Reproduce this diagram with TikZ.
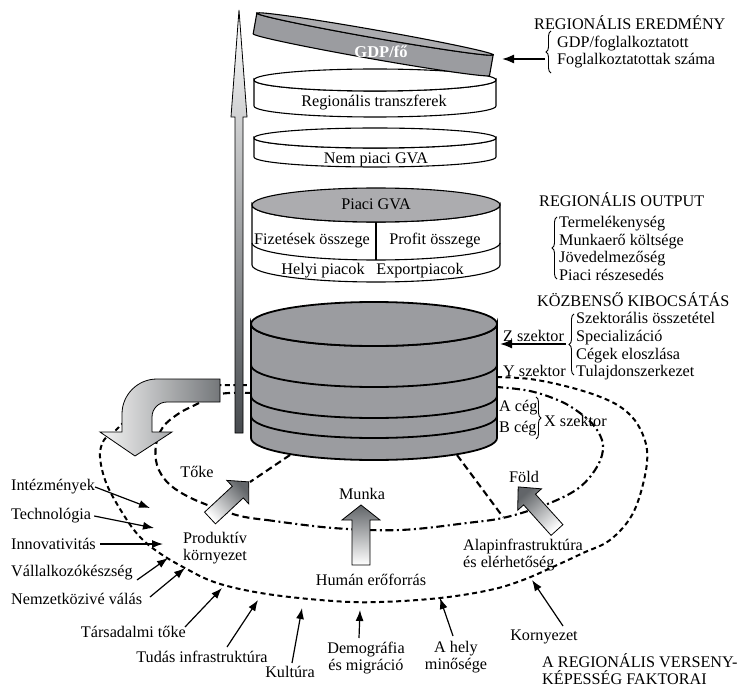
\documentclass[tikz,border=0pt]{standalone}
\usepackage{fontspec}
\setmainfont{Liberation Serif}
\usetikzlibrary{arrows.meta,decorations.pathreplacing,calc}
\definecolor{cylgray}{RGB}{155,156,160}
\definecolor{topgray}{RGB}{172,172,175}
\definecolor{darkarrow}{RGB}{70,74,78}
\newcommand\diskbody[6]{%
  \path[fill=#6,draw=black,line width=1.1pt] ({#1-#3},#2) -- ({#1-#3},{#2+#5}) arc[start angle=180,end angle=360,x radius=#3pt,y radius=#4pt] -- ({#1+#3},#2) arc[start angle=0,end angle=-180,x radius=#3pt,y radius=#4pt] -- cycle;}
\newcommand\disktop[5]{%
  \path[fill=#5,draw=black,line width=1.1pt] (#1,#2) ellipse[x radius=#3pt,y radius=#4pt];}
\newcommand\blockarrow[8]{%
  \begin{scope}[shift={(#1,#2)},rotate=#3]
  \path[draw=black,line width=0.8pt,top color=darkarrow!85,bottom color=white,shading angle=#8] (-#7,0) -- (-#7,{-(#4-#5)}) -- (-#6,{-(#4-#5)}) -- (0,-#4) -- (#6,{-(#4-#5)}) -- (#7,{-(#4-#5)}) -- (#7,0) -- cycle;
  \end{scope}}
\begin{document}
\begin{tikzpicture}[x=1pt,y=-1pt,
  txt/.style={inner sep=0pt,font=\fontsize{16.2}{17.7}\selectfont},
  lab/.style={line width=1.2pt,-{Latex[length=11pt,width=8pt]}},
  bigarr/.style={line width=1.6pt,-{Latex[length=12pt,width=9pt]}},
  brc/.style={decorate,decoration={brace,amplitude=5pt},line width=0.9pt},
  outerloop/.style={line width=2pt,dash pattern=on 5pt off 3.5pt},
  innerloop/.style={line width=2.1pt,dash pattern=on 7pt off 4pt},
  innerdot/.style={line width=2.1pt,dash pattern=on 8pt off 3.5pt on 2pt off 3.5pt},
  cone/.style={line width=2.1pt,dash pattern=on 7pt off 4pt}]
\useasboundingbox (0,0) rectangle (741,687);
\fill[white] (0,0) rectangle (741,687);

% ---------- dashed loops ----------
\draw[outerloop] plot[smooth,tension=0.6] coordinates {(497,377) (530,379) (565,386) (598,396) (622,408) (638,425) (647,450) (644,480) (632,515) (610,540) (583,553) (555,566) (523,580) (490,590) (440,598) (380,602) (333,601) (267,594) (217,583) (183,567) (158,552) (140,537) (125,517) (107,485) (100,457) (104,440) (115,431) (130,415) (142,398) (165,388) (200,385) (220,385) (252,385)};
\draw[innerloop] plot[smooth,tension=0.6] coordinates {(252,393) (220,394) (195,405) (178,414) (163,427) (156,445) (157,465) (167,482) (185,495) (210,506) (240,516) (267,520)};
\draw[innerdot] plot[smooth,tension=0.6] coordinates {(267,520) (333,528) (400,530) (467,523) (507,517) (550,503) (580,487) (598,465) (603,445) (595,427) (580,413) (560,401) (530,391) (497,387)};
\coordinate (coneL1) at (290,455); \coordinate (coneL2) at (250,482);
\coordinate (coneR1) at (457,455); \coordinate (coneR2) at (503,517);
\draw[cone] (coneL1) -- (coneL2);
\draw[cone] (coneR1) -- (coneR2);

% ---------- big cylinder ----------
\path[fill=cylgray,draw=black,line width=1.8pt] (251,324) -- (251,438) arc[start angle=180,end angle=360,x radius=123pt,y radius=22pt] -- (497,324) arc[start angle=0,end angle=-180,x radius=123pt,y radius=22pt] -- cycle;
\draw[line width=1.8pt] (251,365) arc[start angle=180,end angle=360,x radius=123pt,y radius=22pt];
\draw[line width=1.8pt] (251,396) arc[start angle=180,end angle=360,x radius=123pt,y radius=22pt];
\draw[line width=1.8pt] (251,416) arc[start angle=180,end angle=360,x radius=123pt,y radius=22pt];
\path[fill=cylgray,draw=black,line width=1.8pt] (374,324) ellipse[x radius=123pt,y radius=22pt];

% ---------- Piaci GVA disk ----------
\diskbody{376}{205}{124}{17}{60}{white}
\draw[line width=1.1pt] (252,243) arc[start angle=180,end angle=360,x radius=124pt,y radius=17pt];
\draw[line width=1.1pt] (376,222) -- (376,260);
\disktop{376}{205}{124}{17}{topgray}
\node[txt] (piaci) at (376,204) {Piaci GVA};
\node[txt] (fizet) at (312,241) {Fizetések összege};
\node[txt] (profit) at (435,241) {Profit összege};
\node[txt] (helyi) at (323,271) {Helyi piacok};
\node[txt] (export) at (420,271) {Exportpiacok};

% ---------- Nem piaci GVA ----------
\diskbody{375}{138}{121}{10}{19}{white}
\disktop{375}{138}{121}{10}{white}
\node[txt] (nempiaci) at (376,160) {Nem piaci GVA};

% ---------- Regionalis transzferek ----------
\diskbody{375}{80}{121}{11}{26}{white}
\disktop{375}{80}{121}{11}{white}
\node[txt] (transz) at (374,103) {Regionális transzferek};

% ---------- GDP disk (tilted) ----------
\begin{scope}[shift={(375,34)},rotate=-10]
  \path[fill=cylgray,draw=black,line width=1.1pt] (-120,0) -- (-120,21) arc[start angle=180,end angle=360,x radius=120pt,y radius=4pt] -- (120,0) arc[start angle=0,end angle=-180,x radius=120pt,y radius=4pt] -- cycle;
  \path[fill=topgray,draw=black,line width=1.1pt] (0,0) ellipse[x radius=120pt,y radius=4pt];
\end{scope}
\node[txt,text=white,font=\fontsize{16.5}{18}\selectfont\bfseries] (gdp) at (381,52) {GDP/fő};

% ---------- vertical arrow ----------
\path[draw=black,line width=0.8pt,top color=white,bottom color=darkarrow] (235,433) -- (235,117) -- (231,117) -- (239,10) -- (247,117) -- (243,117) -- (243,433) -- cycle;

% ---------- big curved arrow ----------
\path[draw=black,line width=0.8pt,left color=white!92!gray,right color=darkarrow!75] (220,379) -- (157,379) arc[start angle=90,end angle=180,radius=35pt] -- (122,432) -- (100,432) -- (135,456) -- (172,432) -- (152,432) -- (152,417) arc[start angle=180,end angle=90,radius=15pt] -- (220,402) -- cycle;

% ---------- block arrows ----------
\blockarrow{361}{565}{0}{60}{15}{19}{9}{0}
\blockarrow{210}{518}{-47}{53}{15}{16}{8}{-47}
\blockarrow{557}{530}{42}{58}{17}{16}{8}{42}

% ---------- right-side blocks ----------
\node[txt,anchor=west] (regeredm) at (534,23) {REGIONÁLIS EREDMÉNY};
\node[txt,anchor=west,align=left] (gdpf) at (557,52) {GDP/foglalkoztatott\\Foglalkoztatottak száma};
\draw[brc] (551,73) -- (551,31);
\coordinate (gdpstart) at (545,59); \coordinate (gdptip) at (502,59);
\draw[bigarr] (gdpstart) -- (gdptip);

\node[txt,anchor=west] (regout) at (539,200) {REGIONÁLIS OUTPUT};
\node[txt,anchor=west,align=left] (outlist) at (559,248.5) {Termelékenység\\Munkaerő költsége\\Jövedelmezőség\\Piaci részesedés};
\draw[brc] (557,279) -- (557,217);

\node[txt,anchor=west] (kozb) at (537,300) {KÖZBENSŐ KIBOCSÁTÁS};
\node[txt,anchor=west,align=left] (kozlist) at (576,346.5) {Szektorális összetétel\\Specializáció\\Cégek eloszlása\\Tulajdonszerkezet};
\draw[brc] (574,375) -- (574,314);
\coordinate (zstart) at (566,344); \coordinate (ztip) at (500,344);
\draw[bigarr] (zstart) -- (ztip);
\node[txt,anchor=west] (zszek) at (503,336) {Z szektor};
\node[txt,anchor=west] (yszek) at (503,371) {Y szektor};
\node[txt,anchor=west] (aceg) at (499,408) {A cég};
\node[txt,anchor=west] (bceg) at (499,429) {B cég};
\draw[brc] (536,397) -- (536,439);
\node[txt,anchor=west] (xszek) at (544,421) {X szektor};

% ---------- inner labels ----------
\node[txt] (toke) at (197,472) {Tőke};
\node[txt] (munka) at (362,494) {Munka};
\node[txt] (fold) at (524,477) {Föld};
\node[txt,align=center] (prod) at (215,548) {Produktív\\környezet};
\node[txt] (human) at (371,580) {Humán erőforrás};
\node[txt,anchor=west,align=left] (alap) at (463,555) {Alapinfrastruktúra\\és elérhetőség};

% ---------- left labels ----------
\node[txt,anchor=west] (intez) at (11,487) {Intézmények};
\node[txt,anchor=west] (techn) at (11,516) {Technológia};
\node[txt,anchor=west] (innov) at (11,544) {Innovativitás};
\node[txt,anchor=west] (vall) at (11,573) {Vállalkozókészség};
\node[txt,anchor=west] (nemz) at (11,599) {Nemzetközivé válás};
\node[txt,anchor=east] (tars) at (186,632) {Társadalmi tőke};
\node[txt] (tudas) at (202,657) {Tudás infrastruktúra};
\node[txt] (kult) at (290,672) {Kultúra};
\node[txt,align=center] (demo) at (366,658) {Demográfia\\és migráció};
\node[txt,align=center] (hely) at (456,657) {A hely\\minősége};
\node[txt] (korny) at (544,637) {Kornyezet};
\node[txt,anchor=west,align=left] (faktor) at (542,669) {A REGIONÁLIS VERSENY-\\KÉPESSÉG FAKTORAI};

\coordinate (t1) at (150,508); \coordinate (t2) at (154,528); \coordinate (t3) at (163,544);
\coordinate (s4) at (137,580); \coordinate (t4) at (168,558);
\coordinate (s5) at (150,597); \coordinate (t5) at (185,568);
\coordinate (s6) at (185,627); \coordinate (t6) at (222,588);
\coordinate (s7) at (227,647); \coordinate (t7) at (258,600);
\coordinate (s8) at (292,663); \coordinate (t8) at (302,608);
\coordinate (s9) at (359,638); \coordinate (t9) at (360,610);
\coordinate (s10) at (453,636); \coordinate (t10) at (440,598);
\coordinate (s11) at (563,626); \coordinate (t11) at (532,580);
\draw[lab] (intez.east) -- (t1);
\draw[lab] ([xshift=3pt]techn.east) -- (t2);
\draw[lab] ([xshift=4pt]innov.east) -- (t3);
\draw[lab] (s4) -- (t4);
\draw[lab] (s5) -- (t5);
\draw[lab] (s6) -- (t6);
\draw[lab] (s7) -- (t7);
\draw[lab] (s8) -- (t8);
\draw[lab] (s9) -- (t9);
\draw[lab] (s10) -- (t10);
\draw[lab] (s11) -- (t11);
\end{tikzpicture}
\end{document}
